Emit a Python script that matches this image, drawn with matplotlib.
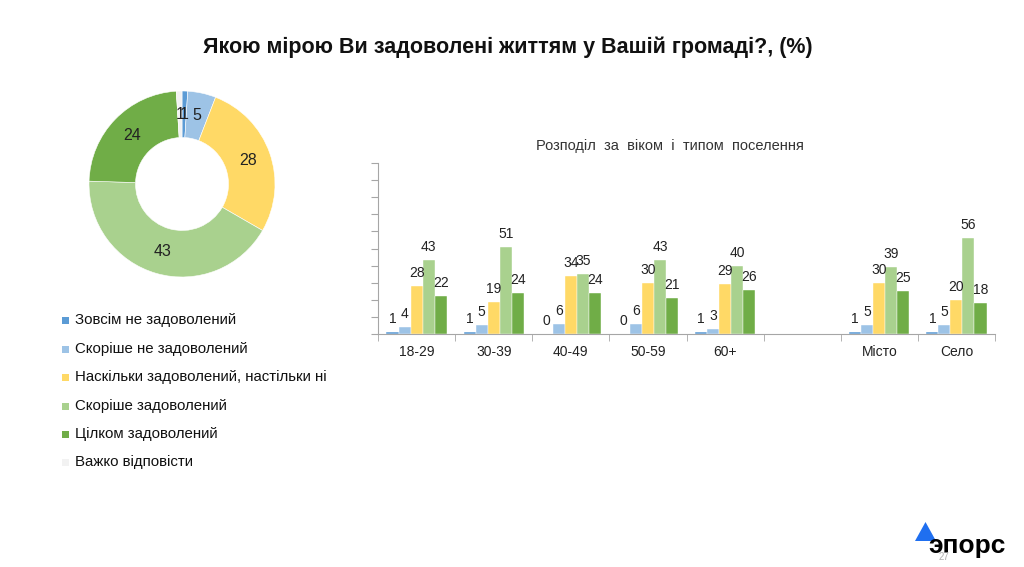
import matplotlib
matplotlib.use("Agg")
import matplotlib.pyplot as plt
import numpy as np
from matplotlib.patches import Rectangle, Polygon

plt.rcParams['font.family'] = ['Liberation Sans', 'DejaVu Sans']

W, H = 1024, 567

# ---------------- data ----------------
answer_labels = ["Зовсім не задоволений", "Скоріше не задоволений",
                 "Наскільки задоволений, настільки ні", "Скоріше задоволений",
                 "Цілком задоволений", "Важко відповісти"]
colors = ["#5B9BD5", "#9DC3E6", "#FFD966", "#A9D18E", "#70AD47", "#F2F2F2"]
pie_values = [1, 5, 28, 43, 24, 1]

groups = ["18-29", "30-39", "40-49", "50-59", "60+", "", "Місто", "Село"]
s_not_at_all = [1, 1, 0, 0, 1, None, 1, 1]
s_rather_not = [4, 5, 6, 6, 3, None, 5, 5]
s_neutral = [28, 19, 34, 30, 29, None, 30, 20]
s_rather_yes = [43, 51, 35, 43, 40, None, 39, 56]
s_fully = [22, 24, 24, 21, 26, None, 25, 18]
bar_series = [s_not_at_all, s_rather_not, s_neutral, s_rather_yes, s_fully]

title = "Якою мірою Ви задоволені життям у Вашій громаді?, (%)"
subtitle = "Розподіл  за  віком  і  типом  поселення"

fig = plt.figure(figsize=(W / 100, H / 100), dpi=100)
fig.patch.set_facecolor("white")


def ax_px(l, t, r, b):
    return fig.add_axes([l / W, 1 - b / H, (r - l) / W, (b - t) / H])


fig.text(508 / W, 1 - 47 / H, title, ha="center", va="center",
         fontsize=15.5, fontweight="bold", color="#111111")

# ---------------- donut ----------------
axp = ax_px(89, 91, 275, 277)
wedges, _ = axp.pie(pie_values, colors=colors, startangle=90, counterclock=False,
                    radius=1, wedgeprops=dict(width=0.5, edgecolor="white", linewidth=0.4))
axp.set_xlim(-1, 1)
axp.set_ylim(-1, 1)
axp.set_aspect("equal")
axp.axis("off")
for w, v in zip(wedges, pie_values):
    ang = np.deg2rad((w.theta1 + w.theta2) / 2)
    axp.text(0.75 * np.cos(ang), 0.75 * np.sin(ang), f"{v}", ha="center",
             va="center", fontsize=11.5, color="#222222")

# ---------------- legend ----------------
leg_y = [320, 349, 377, 406, 434, 462]
for lab, c, y in zip(answer_labels, colors, leg_y):
    fig.patches.append(Rectangle((62 / W, 1 - (y + 3.5) / H), 7 / W, 7 / H,
                                 transform=fig.transFigure, facecolor=c, edgecolor="none"))
    fig.text(75 / W, 1 - y / H, lab, ha="left", va="center", fontsize=10.8, color="#111111")

# ---------------- bars ----------------
axb = ax_px(378, 163, 995, 334)
n = len(groups)
x = np.arange(n)
bw = 0.156
offsets = (np.arange(5) - 2) * bw
for si, (ser, c) in enumerate(zip(bar_series, colors[:5])):
    xs = [x[i] + offsets[si] for i in range(n) if ser[i] is not None]
    vs = [ser[i] for i in range(n) if ser[i] is not None]
    axb.bar(xs, vs, width=bw, color=c, edgecolor="white", linewidth=0.3)
    for xx, vv in zip(xs, vs):
        axb.text(xx, vv + 3.5, f"{vv}", ha="center", va="bottom", fontsize=10, color="#222222")

axb.set_xlim(-0.5, n - 0.5)
axb.set_ylim(0, 100)
axb.set_yticks(np.arange(0, 101, 10))
axb.set_yticklabels([])
axb.set_xticks(x)
axb.set_xticklabels(groups, fontsize=10, color="#222222")
axb.set_xticks(np.arange(-0.5, n, 1), minor=True)
axb.tick_params(axis="x", which="major", length=0, pad=8)
axb.tick_params(axis="x", which="minor", length=5, color="#A6A6A6", direction="out")
axb.tick_params(axis="y", length=5, color="#A6A6A6", direction="out")
for s in ["top", "right"]:
    axb.spines[s].set_visible(False)
axb.spines["left"].set_color("#A6A6A6")
axb.spines["bottom"].set_color("#A6A6A6")

fig.text(670 / W, 1 - 146 / H, subtitle, ha="center", va="center",
         fontsize=10.5, color="#333333")

# ---------------- logo ----------------
fig.patches.append(Polygon([[915 / W, 1 - 541 / H], [936 / W, 1 - 541 / H], [925.5 / W, 1 - 522 / H]],
                           closed=True, transform=fig.transFigure, facecolor="#1F6FF0", edgecolor="none"))
fig.text(967 / W, 1 - 546 / H, "эпорс", ha="center", va="center", fontsize=19,
         fontweight="bold", color="#000000")
fig.text(944 / W, 1 - 557 / H, "27", ha="center", va="center", fontsize=7, color="#B0B0B0")

fig.savefig("out.png", dpi=100, facecolor="white")
